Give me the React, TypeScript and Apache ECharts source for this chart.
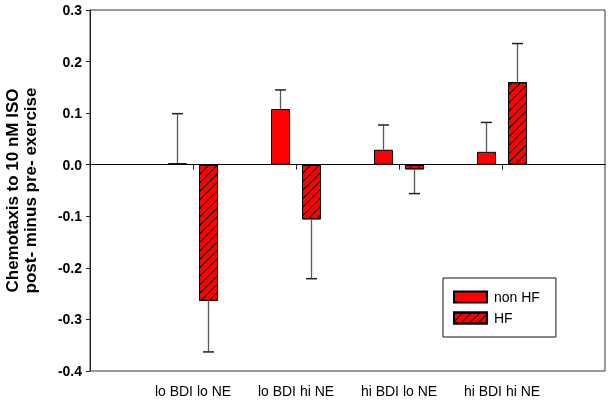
import React, { useEffect, useRef } from "react";
import * as echarts from "echarts";

const categories = ["", "lo BDI lo NE", "lo BDI hi NE", "hi BDI lo NE", "hi BDI hi NE", ""];
const nonHF = [null, 0.003, 0.108, 0.029, 0.025, null];
const nonHFErr = [null, 0.096, 0.037, 0.048, 0.057, null];
const hf = [null, -0.264, -0.106, -0.009, 0.16, null];
const hfErr = [null, 0.099, 0.115, 0.047, 0.075, null];
const yTicks = { min: -0.4, max: 0.3, interval: 0.1 };
const yTitle = "Chemotaxis to 10 nM ISO\npost- minus pre- exercise";

const FONT = 'Arial, "Liberation Sans", Helvetica, sans-serif';
const BAR_W = 19;
const BAR_GAP_PX = 12;

function errSeries(name: string, vals: (number | null)[], errs: (number | null)[], side: number) {
  const data: any[] = [];
  vals.forEach((v, i) => {
    if (v !== null && errs[i] !== null) data.push([i, v, errs[i]]);
  });
  return {
    type: "custom",
    name,
    z: 5,
    silent: true,
    renderItem: (params: any, api: any) => {
      const idx = api.value(0);
      const v = api.value(1);
      const e = api.value(2);
      const sign = v >= 0 ? 1 : -1;
      const off = side * (BAR_W + BAR_GAP_PX) / 2;
      const p0 = api.coord([idx, v]);
      const p1 = api.coord([idx, v + sign * e]);
      const x = p0[0] + off;
      const half = 5.5;
      return {
        type: "group",
        children: [
          { type: "line", shape: { x1: x, y1: p0[1], x2: x, y2: p1[1] }, style: { stroke: "#5a5a5a", lineWidth: 1.3 } },
          { type: "line", shape: { x1: x - half, y1: p1[1], x2: x + half, y2: p1[1] }, style: { stroke: "#222", lineWidth: 1.5 } },
        ],
      };
    },
    encode: { x: 0, y: 1 },
    data,
  };
}

export default function App() {
  const ref = useRef<HTMLDivElement>(null);
  useEffect(() => {
    if (!ref.current) return;
    const chart = echarts.init(ref.current, null, { renderer: "svg" });
    chart.setOption({
      animation: false,
      grid: {
        left: 90,
        right: 6,
        top: 10,
        bottom: 30,
        containLabel: false,
        outerBoundsMode: "none",
        show: true,
        borderColor: "#333",
        borderWidth: 1,
      },
      legend: {
        data: ["non HF", "HF"],
        orient: "vertical",
        left: 443,
        top: 278,
        itemWidth: 33,
        itemHeight: 11,
        itemGap: 7,
        borderColor: "#111",
        borderWidth: 1,
        padding: [12, 16, 12, 10],
        icon: "rect",
        textStyle: { fontFamily: FONT, fontSize: 14, color: "#000", padding: [0, 0, 0, 2] },
      },
      xAxis: {
        type: "category",
        data: categories,
        boundaryGap: false,
        axisLine: { show: true, lineStyle: { color: "#222", width: 1 } },
        axisTick: { show: true, length: 5, interval: (i: number) => i > 0 && i < categories.length - 1, lineStyle: { color: "#222" } },
        axisLabel: { interval: 0, fontFamily: FONT, fontSize: 14, color: "#000", margin: 13 },
        splitLine: { show: false },
      },
      yAxis: {
        type: "value",
        min: yTicks.min,
        max: yTicks.max,
        interval: yTicks.interval,
        name: yTitle,
        nameLocation: "middle",
        nameRotate: 90,
        nameGap: 51,
        nameTextStyle: { fontFamily: FONT, fontSize: 17, fontWeight: "bold", color: "#000", lineHeight: 18 },
        axisLine: { show: true, lineStyle: { color: "#222", width: 1 } },
        axisTick: { show: true, length: 4, lineStyle: { color: "#222" } },
        axisLabel: {
          fontFamily: FONT,
          fontSize: 14,
          fontWeight: "bold",
          color: "#000",
          margin: 8,
          formatter: (v: number) => v.toFixed(1),
        },
        splitLine: { show: false },
      },
      series: [
        {
          type: "bar",
          name: "non HF",
          data: nonHF,
          barWidth: BAR_W,
          barGap: (BAR_GAP_PX / BAR_W) * 100 + "%",
          itemStyle: { color: "#ff0000", borderColor: "#000", borderWidth: 1 },
          markLine: {
            silent: true,
            symbol: ["none", "none"],
            label: { show: false },
            lineStyle: { color: "#000", type: "solid", width: 1 },
            data: [{ yAxis: 0 }],
          },
        },
        {
          type: "bar",
          name: "HF",
          data: hf,
          barWidth: BAR_W,
          itemStyle: {
            color: "#ff0000",
            borderColor: "#000",
            borderWidth: 1,
            decal: {
              symbol: "rect",
              symbolSize: 1,
              color: "#000",
              dashArrayX: [1, 0],
              dashArrayY: [1, 5],
              rotation: -Math.PI / 4,
            },
          },
        },
        errSeries("errNon", nonHF, nonHFErr, -1),
        errSeries("errHF", hf, hfErr, 1),
      ],
    });
    return () => chart.dispose();
  }, []);
  return <div ref={ref} style={{ position: "fixed", left: 0, top: 0, width: 611, height: 401 }} />;
}
